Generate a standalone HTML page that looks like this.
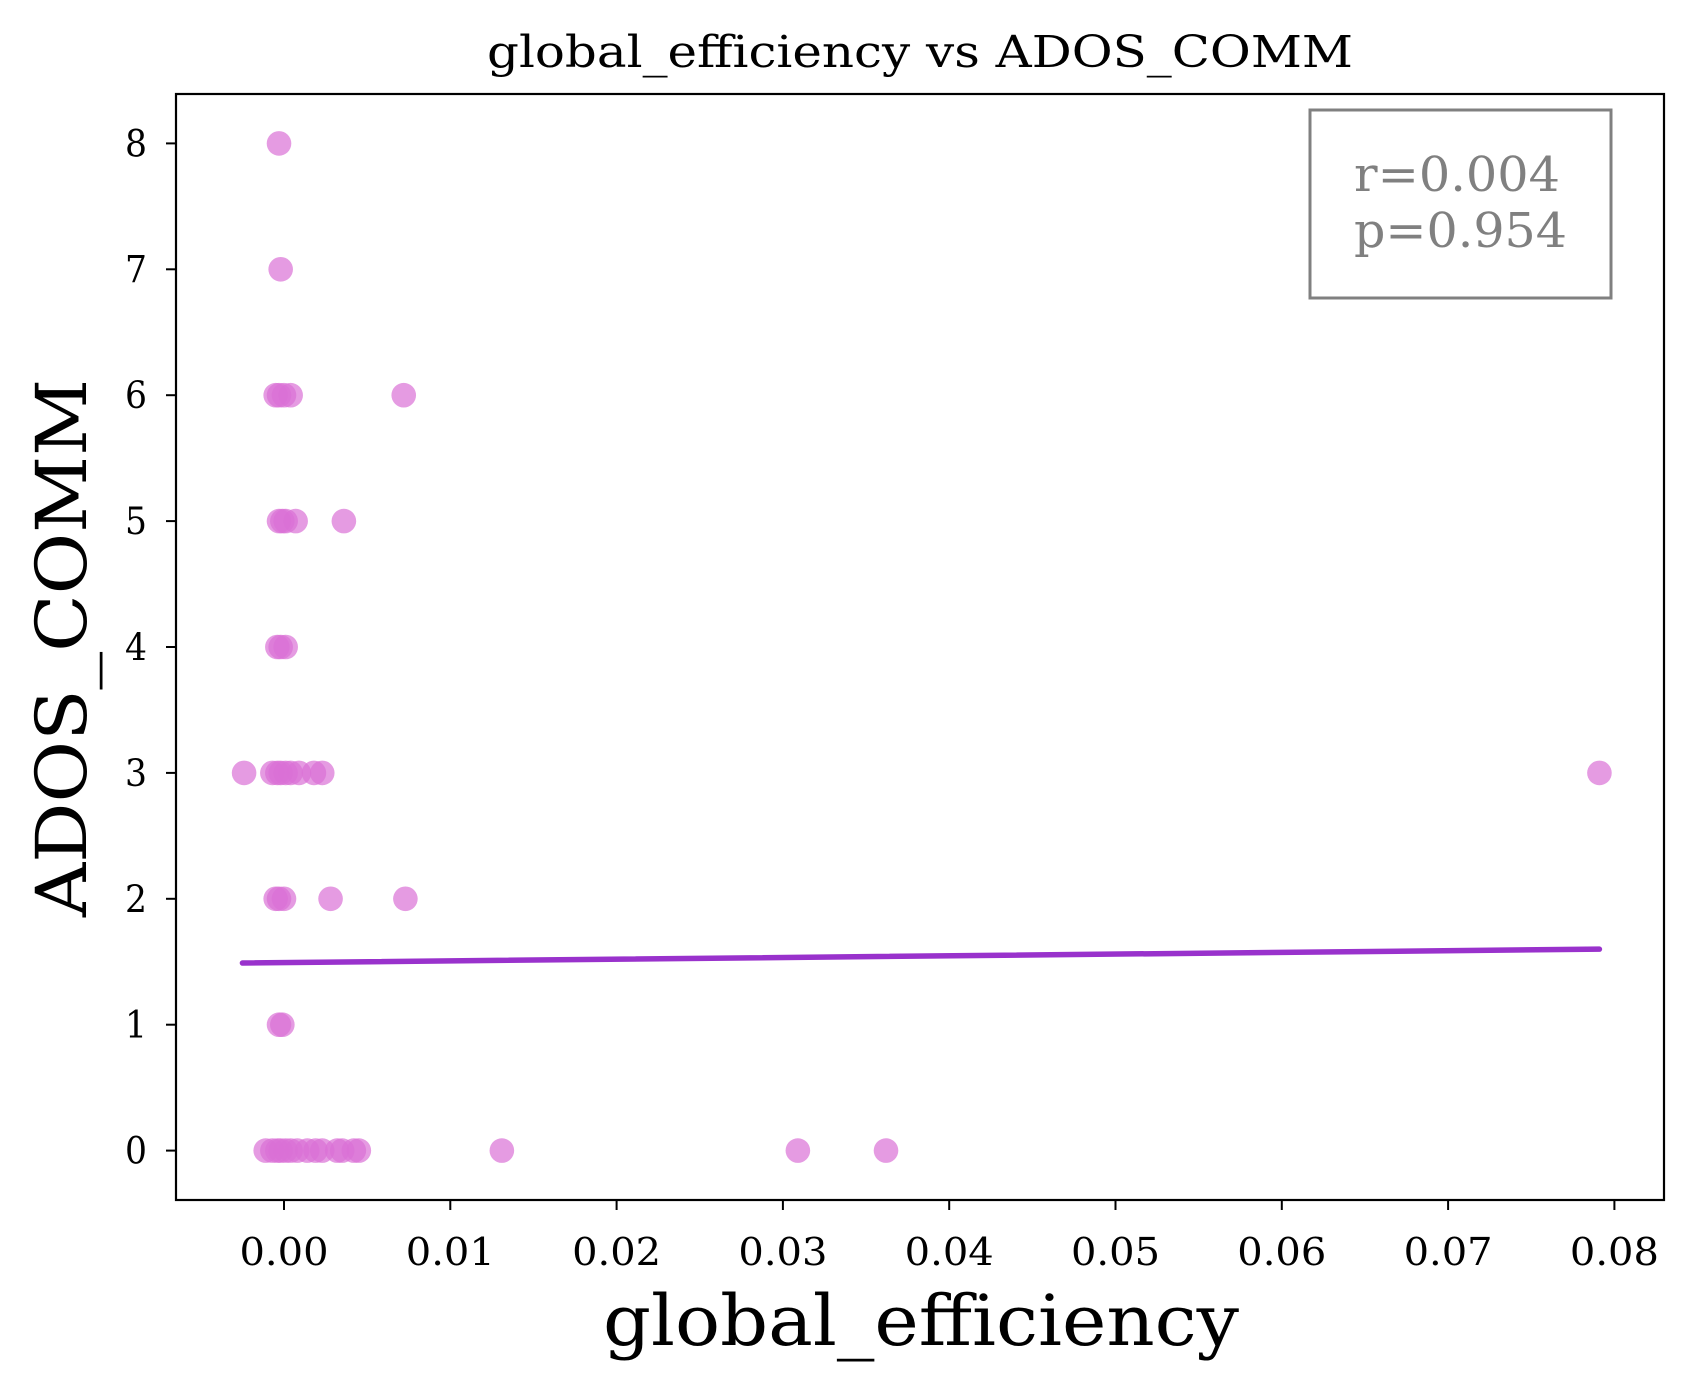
<!DOCTYPE html>
<html><head><meta charset="utf-8"><style>body{margin:0;background:#fff}svg{display:block}</style></head>
<body>
<svg id="chart" width="1694" height="1395" viewBox="0 0 1694 1395" xmlns="http://www.w3.org/2000/svg" font-family="'DejaVu Serif','Liberation Serif',serif">
<rect width="1694" height="1395" fill="#fff"/>
<text x="920" y="67" text-anchor="middle" font-size="44" textLength="866" lengthAdjust="spacingAndGlyphs">global_efficiency vs ADOS_COMM</text>
<g id="marks"></g>
<rect x="176" y="94" width="1488" height="1106" fill="none" stroke="#000" stroke-width="2.2"/>
<g id="xt"></g><g id="yt"></g>
<text x="921" y="1345" text-anchor="middle" font-size="70" textLength="636" lengthAdjust="spacingAndGlyphs">global_efficiency</text>
<text transform="translate(86,648) rotate(-90)" text-anchor="middle" font-size="70" textLength="538" lengthAdjust="spacingAndGlyphs">ADOS_COMM</text>
<rect x="1310" y="110" width="301" height="188" fill="#fff" stroke="#808080" stroke-width="3"/>
<text x="1354" y="191" font-size="48" fill="#808080" textLength="206" lengthAdjust="spacingAndGlyphs">r=0.004</text>
<text x="1354" y="247" font-size="48" fill="#808080" textLength="213" lengthAdjust="spacingAndGlyphs">p=0.954</text>
</svg>
<script>
const xTicks=[0,0.01,0.02,0.03,0.04,0.05,0.06,0.07,0.08];
const xTickLabels=["0.00","0.01","0.02","0.03","0.04","0.05","0.06","0.07","0.08"];
const yTicks=[0,1,2,3,4,5,6,7,8];
const yTickLabels=["0","1","2","3","4","5","6","7","8"];
const xVals=[-0.0003,-0.0002,
 -0.0005,-0.0003,0,0.0004,0.0072,
 -0.0003,-0.0001,0.0001,0.0007,0.0036,
 -0.0004,-0.0002,0.0001,
 -0.0024,-0.0007,-0.0004,-0.0002,0.0001,0.0004,0.0009,0.0018,0.0023,0.0791,
 -0.0005,-0.0003,0,0.0028,0.0073,
 -0.0003,-0.0001,
 -0.0011,-0.0007,-0.0004,-0.0002,0.0001,0.0004,0.0008,0.0014,0.0019,0.0023,0.0032,0.0035,0.0042,0.0045,0.0131,0.0309,0.0362];
const yVals=[8,7,6,6,6,6,6,5,5,5,5,5,4,4,4,3,3,3,3,3,3,3,3,3,3,2,2,2,2,2,1,1,0,0,0,0,0,0,0,0,0,0,0,0,0,0,0,0,0];
const fitX=[-0.0025,0.0791];
const fitY=[1.49,1.60];
const NS="http://www.w3.org/2000/svg";
const X=v=>284+v*16630;
const Y=v=>1150.6-v*125.9;
const marks=document.getElementById('marks');
xVals.forEach((v,i)=>{const c=document.createElementNS(NS,'circle');
c.setAttribute('cx',X(v));c.setAttribute('cy',Y(yVals[i]));c.setAttribute('r',12.3);
c.setAttribute('fill','#da70d6');c.setAttribute('fill-opacity','0.7');


marks.appendChild(c);});
const ln=document.createElementNS(NS,'line');
ln.setAttribute('x1',X(fitX[0]));ln.setAttribute('y1',Y(fitY[0]));ln.setAttribute('x2',X(fitX[1]));ln.setAttribute('y2',Y(fitY[1]));
ln.setAttribute('stroke','#9932cc');ln.setAttribute('stroke-width','5.5');ln.setAttribute('stroke-linecap','round');


marks.appendChild(ln);
const xt=document.getElementById('xt');
xTicks.forEach((v,i)=>{const l=document.createElementNS(NS,'line');
l.setAttribute('x1',X(v));l.setAttribute('x2',X(v));l.setAttribute('y1',1200);l.setAttribute('y2',1210);l.setAttribute('stroke','#000');l.setAttribute('stroke-width','2');


xt.appendChild(l);
const t=document.createElementNS(NS,'text');t.setAttribute('x',X(v));t.setAttribute('y',1265);t.setAttribute('text-anchor','middle');t.setAttribute('font-size','38');
t.setAttribute('textLength','89');t.setAttribute('lengthAdjust','spacingAndGlyphs');t.textContent=xTickLabels[i];


xt.appendChild(t);});
const yt=document.getElementById('yt');
yTicks.forEach((v,i)=>{const l=document.createElementNS(NS,'line');
l.setAttribute('x1',166);l.setAttribute('x2',176);l.setAttribute('y1',Y(v));l.setAttribute('y2',Y(v));l.setAttribute('stroke','#000');l.setAttribute('stroke-width','2');


yt.appendChild(l);
const t=document.createElementNS(NS,'text');t.setAttribute('x',147);t.setAttribute('y',Y(v)+13);t.setAttribute('text-anchor','end');t.setAttribute('font-size','37');
t.setAttribute('textLength','22');t.setAttribute('lengthAdjust','spacingAndGlyphs');
t.textContent=yTickLabels[i];


yt.appendChild(t);});
</script>
</body></html>
